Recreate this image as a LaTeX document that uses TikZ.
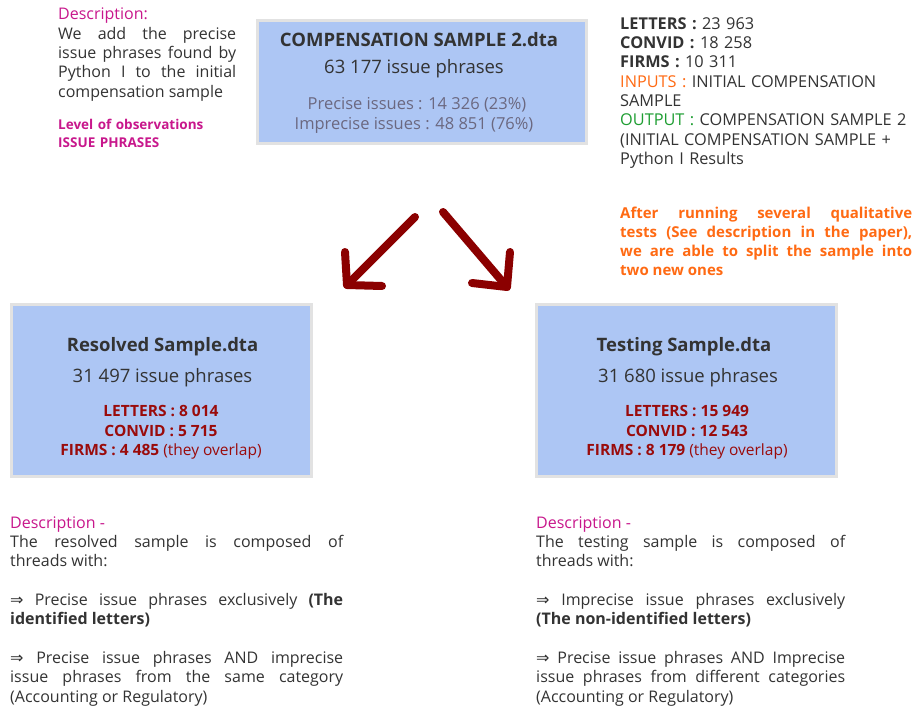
\documentclass[tikz,border=0pt]{standalone}
\usepackage{fontspec}
\setmainfont{Open Sans}
\newfontfamily\symf{DejaVu Sans}
\definecolor{boxfill}{HTML}{ADC6F4}
\definecolor{boxline}{HTML}{E2E2E2}
\definecolor{txt}{HTML}{333333}
\definecolor{mag}{HTML}{C8178C}
\definecolor{orng}{HTML}{FF6A13}
\definecolor{grn}{HTML}{1E9E32}
\definecolor{dred}{HTML}{8B0000}
\definecolor{btxt}{HTML}{9A0B0B}
\definecolor{gtxt}{HTML}{6B6880}
\newcommand\myfs[2]{\fontsize{#1}{#2}\selectfont}
\newcommand\imp{{\symf ⇒}}
\tikzset{
  databox/.style={draw=boxline, line width=3pt, fill=boxfill, inner sep=0pt},
  ctext/.style={anchor=base, inner sep=0pt, text=txt},
  para/.style={anchor=base west, inner sep=0pt, text=txt, align=justify},
  lpara/.style={anchor=base west, inner sep=0pt, text=txt, align=left},
  bigarrow/.style={draw=dred, line width=8pt, line cap=round, line join=round},
}
\begin{document}
\begin{tikzpicture}[x=1pt,y=-1pt]
\useasboundingbox (0,0) rectangle (918,708);
\fill[white] (0,0) rectangle (918,708);

% boxes
\node[databox, minimum width=329pt, minimum height=123pt] (topbox) at (422,82) {};
\node[databox, minimum width=300pt, minimum height=172pt] (leftbox) at (161.5,390.5) {};
\node[databox, minimum width=300pt, minimum height=172pt] (rightbox) at (686.5,390.5) {};

% top box text
\node[ctext, font=\myfs{18.5}{20}\bfseries] (toptitle) at (419,46.7) {COMPENSATION SAMPLE 2.dta};
\node[ctext, font=\myfs{18.5}{20}] (topcount) at (414,73.3) {63 177 issue phrases};
\node[ctext, font=\myfs{16.5}{19}, text=gtxt] (topprec) at (417,110) {Precise issues : 14 326 (23\%)};
\node[ctext, font=\myfs{16.5}{19}, text=gtxt] (topimp) at (414,129.3) {Imprecise issues : 48 851 (76\%)};

% left box text
\node[ctext, font=\myfs{18.5}{20}\bfseries] (ltitle) at (162.5,351.7) {Resolved Sample.dta};
\node[ctext, font=\myfs{18.5}{20}] (lcount) at (162.5,382.7) {31 497 issue phrases};
\node[ctext, font=\myfs{15.5}{20}\bfseries, text=btxt] (llet) at (161,416.7) {LETTERS : 8 014};
\node[ctext, font=\myfs{15.5}{20}\bfseries, text=btxt] (lcon) at (161,436.7) {CONVID : 5 715};
\node[ctext, font=\myfs{15.5}{20}, text=btxt] (lfirm) at (161,455) {\textbf{FIRMS : 4 485} (they overlap)};

% right box text
\node[ctext, font=\myfs{18.5}{20}\bfseries] (rtitle) at (684,351.7) {Testing Sample.dta};
\node[ctext, font=\myfs{18.5}{20}] (rcount) at (688,382.7) {31 680 issue phrases};
\node[ctext, font=\myfs{15.5}{20}\bfseries, text=btxt] (rlet) at (687,416.7) {LETTERS : 15 949};
\node[ctext, font=\myfs{15.5}{20}\bfseries, text=btxt] (rcon) at (687,436.7) {CONVID : 12 543};
\node[ctext, font=\myfs{15.5}{20}, text=btxt] (rfirm) at (687,455) {\textbf{FIRMS : 8 179} (they overlap)};

% top-left description
\node[para, text width=178pt, font=\myfs{16}{19.3}] (tldesc) at (58,20)
  {{\color{mag}Description:}\\
   We add the precise\linebreak
   issue phrases found by\linebreak
   Python I to the initial\linebreak
   compensation sample\par};
\node[lpara, text width=200pt, text=mag, font=\myfs{13.5}{17.7}\bfseries] (tllevel) at (58,130)
  {Level of observations\\ISSUE PHRASES};

% top-right info
\node[lpara, text width=298pt, font=\myfs{16.3}{19.3}] (trinfo) at (620,29.3)
  {\textbf{LETTERS :} 23 963\\
   \textbf{CONVID :} 18 258\\
   \textbf{FIRMS :} 10 311\\
   {\color{orng}INPUTS :} INITIAL COMPENSATION\\
   SAMPLE\\
   {\color{grn}OUTPUT :} COMPENSATION SAMPLE 2\\
   (INITIAL COMPENSATION SAMPLE +\\
   Python I Results};

\node[para, text width=292pt, text=orng, font=\myfs{15}{19.1}\bfseries] (trsplit) at (620,218.3)
  {After running several qualitative\linebreak
   tests (See description in the paper),\linebreak
   we are able to split the sample into\linebreak
   two new ones\par};

% arrows
\coordinate (lA) at (415,217);
\coordinate (lB) at (347,285);
\coordinate (lC) at (345,252);
\coordinate (lD) at (382,286);
\coordinate (rA) at (443,212);
\coordinate (rB) at (507,287);
\coordinate (rC) at (510,252);
\coordinate (rD) at (472,283);
\draw[bigarrow] (lA) -- (lB);
\draw[bigarrow] (lC) -- (lB) -- (lD);
\draw[bigarrow] (rA) -- (rB);
\draw[bigarrow] (rC) -- (rB) -- (rD);

% bottom descriptions
\node[para, text width=333pt, font=\myfs{16}{19.3}] (ldesc) at (10,528.3)
  {{\color{mag}Description -}\\
   The resolved sample is composed of\linebreak
   threads with:\par\vskip19.3pt
   \imp{} Precise issue phrases exclusively \textbf{(The}\linebreak
   \textbf{identified letters)}\par\vskip19.3pt
   \imp{} Precise issue phrases AND imprecise\linebreak
   issue phrases from the same category\linebreak
   (Accounting or Regulatory)\par};

\node[para, text width=309pt, font=\myfs{16}{19.3}] (rdesc) at (536,528.3)
  {{\color{mag}Description -}\\
   The testing sample is composed of\linebreak
   threads with:\par\vskip19.3pt
   \imp{} Imprecise issue phrases exclusively\linebreak
   \textbf{(The non-identified letters)}\par\vskip19.3pt
   \imp{} Precise issue phrases AND Imprecise\linebreak
   issue phrases from different categories\linebreak
   (Accounting or Regulatory)\par};
\end{tikzpicture}
\end{document}
